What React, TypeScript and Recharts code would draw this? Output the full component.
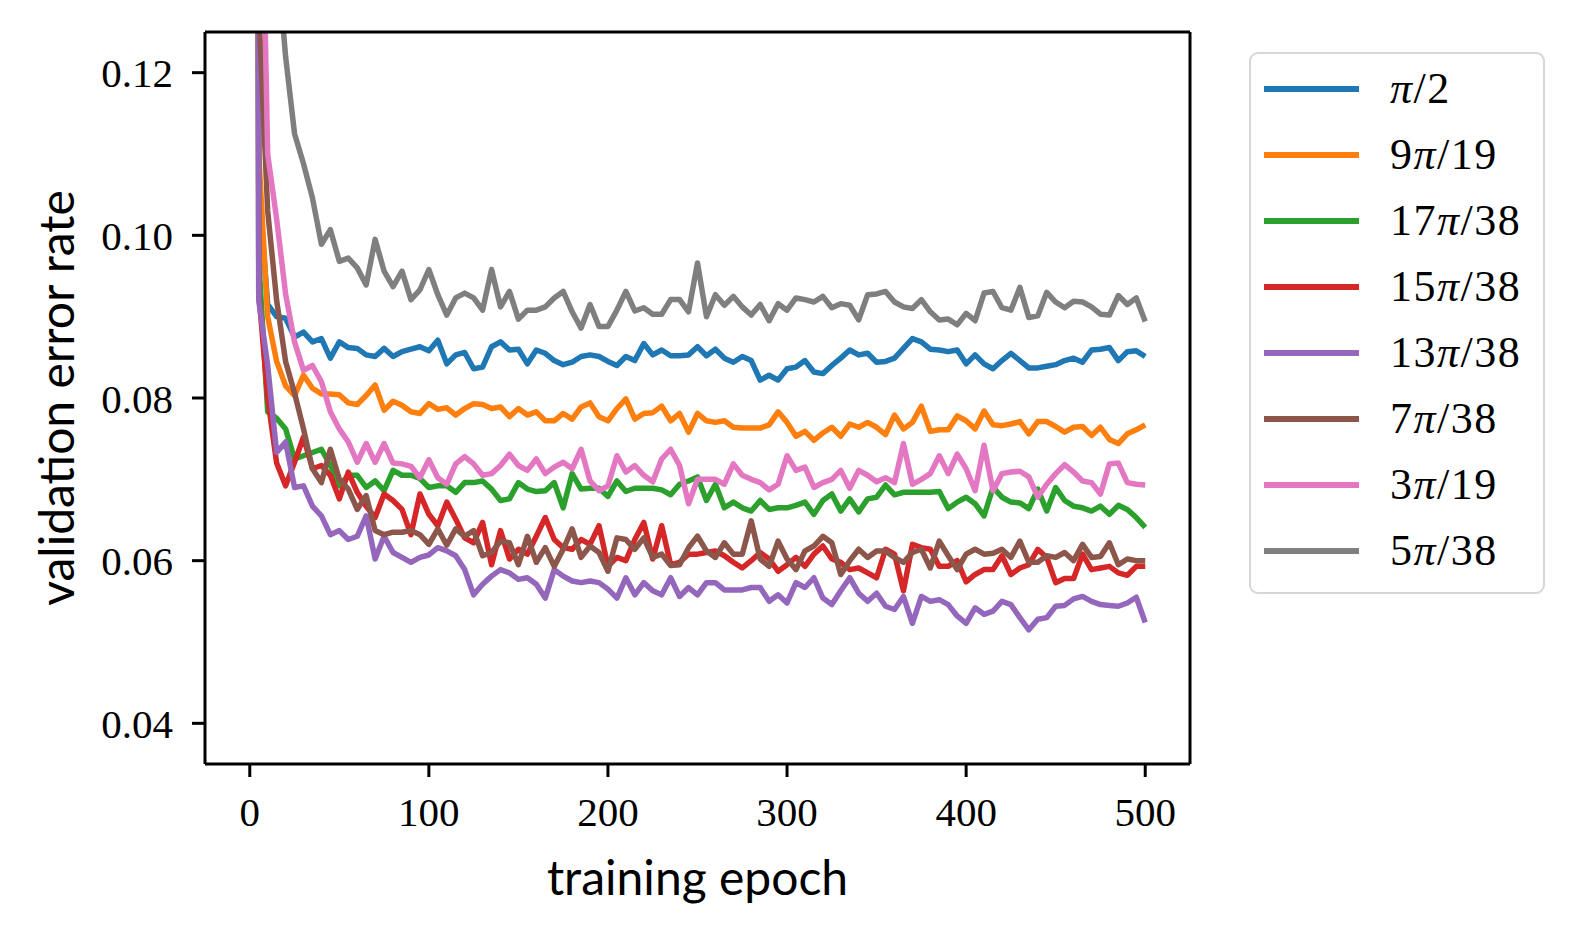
import React from 'react';
import { LineChart, Line, XAxis, YAxis, Label, ReferenceLine } from 'recharts';

// epochs at which validation error was recorded
const epochs = [
  0, 5, 10, 15, 20, 25, 30, 35, 40, 45,
  50, 55, 60, 65, 70, 75, 80, 85, 90, 95,
  100, 105, 110, 115, 120, 125, 130, 135, 140, 145,
  150, 155, 160, 165, 170, 175, 180, 185, 190, 195,
  200, 205, 210, 215, 220, 225, 230, 235, 240, 245,
  250, 255, 260, 265, 270, 275, 280, 285, 290, 295,
  300, 305, 310, 315, 320, 325, 330, 335, 340, 345,
  350, 355, 360, 365, 370, 375, 380, 385, 390, 395,
  400, 405, 410, 415, 420, 425, 430, 435, 440, 445,
  450, 455, 460, 465, 470, 475, 480, 485, 490, 495,
  500,
];

const piOver2 = [
  0.9, 0.106, 0.0915, 0.09, 0.0898, 0.0875, 0.0881, 0.0869, 0.0873, 0.0849,
  0.0869, 0.0862, 0.0861, 0.0853, 0.0851, 0.0861, 0.0851, 0.0857, 0.086, 0.0863,
  0.0858, 0.0871, 0.0842, 0.0853, 0.0856, 0.0836, 0.0838, 0.0863, 0.0869, 0.0859,
  0.086, 0.0842, 0.0859, 0.0855, 0.0846, 0.0841, 0.0844, 0.0851, 0.0853, 0.0851,
  0.0845, 0.084, 0.0851, 0.0846, 0.0867, 0.0853, 0.0859, 0.0852, 0.0852, 0.0853,
  0.0863, 0.0852, 0.086, 0.0849, 0.0844, 0.0851, 0.0846, 0.0822, 0.0828, 0.0822,
  0.0836, 0.0838, 0.0846, 0.0832, 0.083, 0.084, 0.0849, 0.0859, 0.0853, 0.0855,
  0.0844, 0.0845, 0.0849, 0.0861, 0.0873, 0.0869, 0.086, 0.0859, 0.0857, 0.0859,
  0.0842, 0.0853, 0.0842, 0.0836, 0.0846, 0.0855, 0.0846, 0.0837, 0.0837, 0.0839,
  0.0841, 0.0846, 0.0849, 0.0844, 0.0859, 0.086, 0.0862, 0.0846, 0.0857, 0.0858,
  0.0851,
];

const pi9of19 = [
  0.9, 0.11, 0.09, 0.0845, 0.0815, 0.0803, 0.0828, 0.0812, 0.0805, 0.0805,
  0.0804, 0.0794, 0.0792, 0.0803, 0.0816, 0.0785, 0.0796, 0.0791, 0.0783, 0.0781,
  0.0793, 0.0786, 0.0788, 0.0779, 0.0787, 0.0793, 0.0792, 0.0787, 0.0789, 0.0777,
  0.0787, 0.0779, 0.0783, 0.0772, 0.0772, 0.0781, 0.0774, 0.0789, 0.0794, 0.0777,
  0.0772, 0.0787, 0.0799, 0.0774, 0.0781, 0.0782, 0.079, 0.0772, 0.0781, 0.0758,
  0.0781, 0.0772, 0.077, 0.0772, 0.0764, 0.0763, 0.0763, 0.0763, 0.0767, 0.0783,
  0.077, 0.0753, 0.0759, 0.0748, 0.0757, 0.0764, 0.0753, 0.0768, 0.0764, 0.077,
  0.0764, 0.0755, 0.0779, 0.0762, 0.077, 0.079, 0.0759, 0.0761, 0.0761, 0.0778,
  0.0772, 0.0762, 0.0784, 0.0767, 0.0766, 0.0768, 0.0771, 0.0756, 0.0771, 0.0771,
  0.0765, 0.0758, 0.0764, 0.0765, 0.0754, 0.0764, 0.0749, 0.0744, 0.0756, 0.0761,
  0.0767,
];

const pi17of38 = [
  0.9, 0.097, 0.0783, 0.0775, 0.0762, 0.0725, 0.0729, 0.0733, 0.0737, 0.0717,
  0.0692, 0.0705, 0.0705, 0.069, 0.0698, 0.0686, 0.0711, 0.0705, 0.0705, 0.0701,
  0.069, 0.0692, 0.0692, 0.0684, 0.0696, 0.0696, 0.0698, 0.0688, 0.0674, 0.0676,
  0.0696, 0.0688, 0.0685, 0.0686, 0.0696, 0.0665, 0.0707, 0.0688, 0.0689, 0.0689,
  0.0679, 0.0698, 0.0685, 0.0689, 0.0689, 0.0689, 0.0687, 0.0681, 0.0694, 0.0698,
  0.0703, 0.0674, 0.0694, 0.0665, 0.0672, 0.0665, 0.0661, 0.0674, 0.0663, 0.0665,
  0.0665, 0.0668, 0.0672, 0.0657, 0.0674, 0.0682, 0.0661, 0.0676, 0.066, 0.0676,
  0.0678, 0.0693, 0.0681, 0.0684, 0.0684, 0.0684, 0.0684, 0.0685, 0.0664, 0.0672,
  0.0678, 0.067, 0.0655, 0.069, 0.0678, 0.0672, 0.0671, 0.0664, 0.0688, 0.0661,
  0.069, 0.0674, 0.0667, 0.0665, 0.0661, 0.0667, 0.0657, 0.0668, 0.0663, 0.0653,
  0.0641,
];

const pi15of38 = [
  0.9, 0.093, 0.08, 0.072, 0.0692, 0.0721, 0.0752, 0.0713, 0.0717, 0.0705,
  0.0676, 0.0709, 0.0684, 0.0667, 0.0653, 0.0682, 0.0674, 0.0663, 0.0632, 0.0682,
  0.0657, 0.0643, 0.0672, 0.0651, 0.0628, 0.0622, 0.0647, 0.0595, 0.0637, 0.0602,
  0.0614, 0.0608, 0.063, 0.0653, 0.0626, 0.0616, 0.0614, 0.0626, 0.062, 0.0643,
  0.0593, 0.0604, 0.06, 0.0626, 0.0647, 0.0602, 0.0643, 0.0595, 0.0598, 0.0608,
  0.0608, 0.061, 0.0612, 0.0606, 0.0598, 0.0591, 0.06, 0.061, 0.0602, 0.0587,
  0.0595, 0.0604, 0.0593, 0.0608, 0.0618, 0.0602, 0.0598, 0.0589, 0.0591, 0.0585,
  0.0579, 0.0614, 0.0608, 0.0563, 0.062, 0.0616, 0.0614, 0.0593, 0.0593, 0.06,
  0.0574, 0.0583, 0.0589, 0.0589, 0.0606, 0.0583, 0.0591, 0.0595, 0.0614, 0.0604,
  0.0573, 0.0578, 0.0578, 0.0608, 0.0589, 0.0591, 0.0593, 0.0585, 0.0582, 0.0593,
  0.0593,
];

const pi13of38 = [
  0.9, 0.092, 0.084, 0.0733, 0.0746, 0.069, 0.0692, 0.0667, 0.0655, 0.0632,
  0.0637, 0.0626, 0.063, 0.0655, 0.0602, 0.063, 0.061, 0.0604, 0.0598, 0.0604,
  0.0607, 0.0616, 0.0612, 0.0606, 0.0589, 0.0558, 0.0571, 0.0581, 0.0589, 0.0585,
  0.0577, 0.0579, 0.0571, 0.0554, 0.0589, 0.0581, 0.0575, 0.0573, 0.0575, 0.0573,
  0.0565, 0.0554, 0.0579, 0.0558, 0.0573, 0.0563, 0.0558, 0.0579, 0.0556, 0.0567,
  0.0558, 0.0573, 0.0573, 0.0564, 0.0564, 0.0564, 0.0567, 0.0567, 0.055, 0.0558,
  0.0548, 0.0573, 0.0567, 0.0579, 0.0554, 0.0546, 0.0563, 0.0579, 0.056, 0.055,
  0.056, 0.0544, 0.054, 0.0556, 0.0523, 0.0556, 0.055, 0.0552, 0.0546, 0.0532,
  0.0523, 0.0542, 0.0534, 0.0538, 0.055, 0.0546, 0.053, 0.0515, 0.0528, 0.053,
  0.0544, 0.0545, 0.0553, 0.0556, 0.055, 0.0546, 0.0545, 0.0544, 0.0548, 0.0555,
  0.0524,
];

const pi7of38 = [
  0.9, 0.128, 0.103, 0.092, 0.0845, 0.0806, 0.0762, 0.0713, 0.0696, 0.0737,
  0.07, 0.0688, 0.0663, 0.068, 0.0637, 0.0632, 0.0635, 0.0635, 0.0637, 0.0632,
  0.062, 0.0639, 0.0619, 0.0639, 0.063, 0.0637, 0.0606, 0.061, 0.0624, 0.0622,
  0.0595, 0.063, 0.0598, 0.0616, 0.0593, 0.0614, 0.0639, 0.0604, 0.0618, 0.061,
  0.0587, 0.0628, 0.0626, 0.0614, 0.0628, 0.0604, 0.0608, 0.0594, 0.0595, 0.0616,
  0.063, 0.0612, 0.0604, 0.0622, 0.0608, 0.0608, 0.0649, 0.0602, 0.0593, 0.0624,
  0.0602, 0.0589, 0.0612, 0.0618, 0.063, 0.0622, 0.0583, 0.06, 0.0614, 0.0604,
  0.0612, 0.0612, 0.0604, 0.0598, 0.061, 0.0614, 0.0591, 0.0624, 0.0606, 0.0589,
  0.0608, 0.0614, 0.0608, 0.0609, 0.0614, 0.0604, 0.0624, 0.0598, 0.0598, 0.0606,
  0.0604, 0.061, 0.06, 0.062, 0.0604, 0.0605, 0.0622, 0.0595, 0.0602, 0.06,
  0.06,
];

const pi3of19 = [
  0.9, 0.166, 0.11, 0.102, 0.0928, 0.0869, 0.0834, 0.084, 0.082, 0.0783,
  0.0762, 0.0746, 0.0721, 0.0744, 0.0721, 0.0744, 0.072, 0.0719, 0.0716, 0.0702,
  0.0724, 0.0702, 0.0694, 0.0719, 0.0728, 0.0719, 0.0705, 0.0707, 0.0717, 0.0731,
  0.0717, 0.0711, 0.0725, 0.0707, 0.0715, 0.0721, 0.0713, 0.0737, 0.0698, 0.0686,
  0.0692, 0.0729, 0.0709, 0.0717, 0.0705, 0.0697, 0.0725, 0.0737, 0.0717, 0.067,
  0.07, 0.07, 0.07, 0.0694, 0.0719, 0.0705, 0.07, 0.0696, 0.0687, 0.0694,
  0.0729, 0.0711, 0.0715, 0.069, 0.0696, 0.07, 0.0711, 0.0689, 0.0711, 0.0705,
  0.0697, 0.0702, 0.0696, 0.0744, 0.0694, 0.07, 0.0707, 0.0729, 0.0707, 0.0731,
  0.0713, 0.0686, 0.0742, 0.0686, 0.0707, 0.0709, 0.071, 0.0703, 0.0678, 0.0694,
  0.0707, 0.0718, 0.0709, 0.0698, 0.0696, 0.0682, 0.0719, 0.072, 0.0696, 0.0694,
  0.0693,
];

const pi5of38 = [
  0.9, 0.2, 0.16, 0.135, 0.122, 0.1125, 0.1088, 0.1046, 0.0989, 0.1007,
  0.0968, 0.0972, 0.096, 0.0939, 0.0995, 0.0956, 0.0937, 0.0956, 0.0921, 0.0933,
  0.0958, 0.0927, 0.0902, 0.0923, 0.0929, 0.0923, 0.0908, 0.0958, 0.0912, 0.0931,
  0.0897, 0.0908, 0.0908, 0.0912, 0.0923, 0.0931, 0.0906, 0.0886, 0.0915, 0.0888,
  0.0888, 0.0908, 0.0931, 0.0907, 0.0911, 0.0903, 0.0903, 0.0921, 0.0921, 0.0906,
  0.0966, 0.09, 0.0927, 0.0914, 0.0925, 0.0912, 0.0902, 0.0915, 0.0895, 0.0916,
  0.0908, 0.0923, 0.0921, 0.0918, 0.0925, 0.0911, 0.0916, 0.0914, 0.0896, 0.0927,
  0.0928, 0.0931, 0.0918, 0.0912, 0.091, 0.0921, 0.0906, 0.0896, 0.0897, 0.089,
  0.0904, 0.0895, 0.0929, 0.0931, 0.0911, 0.0908, 0.0936, 0.0899, 0.0901, 0.093,
  0.0918, 0.0911, 0.0919, 0.0918, 0.0912, 0.0903, 0.0902, 0.0926, 0.0915, 0.0923,
  0.0894,
];

const xTicks = [0, 100, 200, 300, 400, 500];
const yTicks = [0.04, 0.06, 0.08, 0.1, 0.12];
const xDomain = [-25, 525];
const yDomain = [0.035, 0.125];

const series = [
  { key: 'a', name: 'π/2', color: '#1f77b4', values: piOver2 },
  { key: 'b', name: '9π/19', color: '#ff7f0e', values: pi9of19 },
  { key: 'c', name: '17π/38', color: '#2ca02c', values: pi17of38 },
  { key: 'd', name: '15π/38', color: '#d62728', values: pi15of38 },
  { key: 'e', name: '13π/38', color: '#9467bd', values: pi13of38 },
  { key: 'f', name: '7π/38', color: '#8c564b', values: pi7of38 },
  { key: 'g', name: '3π/19', color: '#e377c2', values: pi3of19 },
  { key: 'h', name: '5π/38', color: '#7f7f7f', values: pi5of38 },
];

const data = epochs.map((epoch, i) => {
  const row: any = { epoch };
  series.forEach(s => { row[s.key] = s.values[i]; });
  return row;
});

const serif = '"Liberation Serif", serif';
const sans = 'Lato, "Liberation Sans", sans-serif';
const axisStroke = { stroke: '#000', strokeWidth: 3 };
const tickFont = { fill: '#000', fontSize: 41, fontFamily: serif };

const XLabel = (props: any) => {
  const vb = props.viewBox;
  return (
    <text x={vb.x + vb.width / 2} y={vb.y + 131} textAnchor="middle"
      fontFamily={sans} fontSize={48} fill="#000">training epoch</text>
  );
};

const YLabel = (props: any) => {
  const vb = props.viewBox;
  const cx = vb.x + 74;
  const cy = vb.y + vb.height / 2;
  return (
    <text x={cx} y={cy} transform={`rotate(-90, ${cx}, ${cy})`} textAnchor="middle"
      fontFamily={sans} fontSize={48} fill="#000">validation error rate</text>
  );
};

function LegendName({ name }: { name: string }) {
  const parts = name.split('π');
  return (
    <span>
      {parts[0]}<span style={{ fontStyle: 'italic' }}>π</span>{parts[1]}
    </span>
  );
}

export default function App() {
  return (
    <div style={{ position: 'relative', margin: -8, width: 1577, height: 931, background: '#fff', overflow: 'hidden' }}>
      <LineChart width={1577} height={931} data={data}
        margin={{ top: 32, right: 387, left: 0, bottom: 0 }}>
        <XAxis dataKey="epoch" type="number" domain={xDomain} ticks={xTicks} interval={0}
          allowDataOverflow height={167} axisLine={axisStroke} tickLine={axisStroke}
          tickSize={13} tickMargin={20} tick={tickFont}>
          <Label content={XLabel} />
        </XAxis>
        <YAxis type="number" domain={yDomain} ticks={yTicks} interval={0}
          allowDataOverflow width={205} axisLine={axisStroke} tickLine={axisStroke}
          tickSize={13} tickMargin={19} tick={tickFont}
          tickFormatter={(v: number) => v.toFixed(2)}>
          <Label content={YLabel} />
        </YAxis>
        {series.map(s => (
          <Line key={s.key} dataKey={s.key} name={s.name} type="linear" stroke={s.color}
            strokeWidth={5.5} strokeLinejoin="round" dot={false} activeDot={false}
            isAnimationActive={false} />
        ))}
        <ReferenceLine y={yDomain[1]} stroke="#000" strokeWidth={3} />
        <ReferenceLine x={xDomain[1]} stroke="#000" strokeWidth={3} />
      </LineChart>
      <div style={{
        position: 'absolute', left: 1249, top: 52, width: 296, height: 542,
        boxSizing: 'border-box', border: '2px solid #d6d6d6', borderRadius: 9,
        background: '#fff', paddingTop: 2,
      }}>
        {series.map(s => (
          <div key={s.key} style={{ height: 66, display: 'flex', alignItems: 'center' }}>
            <div style={{ marginLeft: 13, width: 95, height: 5.5, background: s.color }} />
            <div style={{ marginLeft: 31, fontFamily: serif, fontSize: 44, letterSpacing: 1.5, color: '#000', lineHeight: 1 }}>
              <LegendName name={s.name} />
            </div>
          </div>
        ))}
      </div>
    </div>
  );
}
